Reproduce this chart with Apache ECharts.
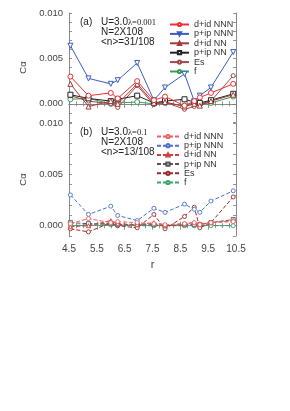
<!DOCTYPE html>
<html><head><meta charset="utf-8">
<script src="https://cdn.jsdelivr.net/npm/echarts@6/dist/echarts.min.js"></script>
<style>html,body{margin:0;padding:0;background:#fff}#c{width:290px;height:411px}</style>
</head><body><div id="c"></div>
<script>
// r positions
const rA = [4.55, 5.2, 6.0, 6.25, 6.95, 7.55, 7.95, 8.65, 9.0, 9.2, 9.6, 10.4];
const rB = [4.55, 5.2, 6.0, 6.25, 6.95, 7.55, 7.95, 8.65, 9.0, 9.2, 9.6, 10.4];
const xTicks = ['4.5','5.5','6.5','7.5','8.5','9.5','10.5'];
const seriesNames = ['d+id NNN','p+ip NNN','d+id NN','p+ip NN','Es','f'];
// panel (a)  U=3.0 lambda=0.001
const a_didNNN = [0.0030, 0.0009, 0.0012, 0.0006, 0.0025, 0.0004, 0.0008, -0.0002, 0.0003, 0.0007, 0.0012, 0.0022];
const a_pipNNN = [0.0064, 0.0028, 0.0022, 0.0026, 0.0045, 0.0004, 0.0018, 0.0033, 0.0003, 0.0009, 0.0018, 0.0057];
const a_didNN  = [0.0022, -0.0003, 0.0003, 0.0000, 0.0022, 0.0001, 0.0002, -0.0003, 0.0000, -0.0002, 0.0003, 0.0010];
const a_pipNN  = [0.0010, 0.0006, 0.0003, 0.0005, 0.0009, 0.0001, 0.0003, 0.0005, 0.0002, 0.0001, 0.0004, 0.0011];
const a_Es     = [0.0009, 0.0003, 0.0000, -0.0004, 0.0020, -0.0001, 0.0002, -0.0006, -0.0003, 0.0000, 0.0003, 0.0031];
const a_f      = [0.0005, 0.0006, 0.0000, 0.0001, 0.0002, 0.0000, 0.0001, -0.0002, 0.0001, 0.0000, 0.0001, 0.0008];
// panel (b)  U=3.0 lambda=0.1
const b_didNNN = [0.0002, 0.0007, 0.0003, 0.0004, 0.0003, 0.0002, 0.0001, 0.0002, 0.0003, 0.0001, 0.0003, 0.0004];
const b_pipNNN = [0.0030, 0.0011, 0.0019, 0.0010, 0.0005, 0.0017, 0.0013, 0.0021, 0.0016, 0.0013, 0.0024, 0.0034];
const b_didNN  = [-0.0001, 0.0000, 0.0005, 0.0002, 0.0001, 0.0003, 0.0000, 0.0002, 0.0003, 0.0002, 0.0003, 0.0005];
const b_pipNN  = [0.0003, 0.0002, 0.0002, 0.0001, 0.0001, 0.0001, 0.0000, 0.0001, 0.0001, 0.0001, 0.0003, 0.0006];
const b_Es     = [-0.0003, -0.0006, 0.0003, 0.0000, -0.0002, 0.0011, -0.0003, 0.0009, 0.0018, -0.0002, 0.0003, 0.0028];
const b_f      = [0.0000, 0.0001, 0.0001, 0.0001, 0.0000, 0.0000, 0.0000, 0.0000, 0.0000, 0.0000, 0.0000, 0.0000];

const FONT = 'Liberation Sans, Arial, sans-serif';
const pair = (xs, ys) => xs.map((x, i) => [x, ys[i]]);

const styleA = [
  {color:'#ee3030', symbol:'circle', size:5},
  {color:'#3a5cc0', symbol:'path://M0,0 L10,0 L5,9 Z', size:5},
  {color:'#a33a3a', symbol:'triangle', size:5},
  {color:'#222222', symbol:'rect', size:5},
  {color:'#a04848', symbol:'circle', size:4},
  {color:'#3a9a5a', symbol:'circle', size:5}
];
const styleB = [
  {color:'#f06060', symbol:'circle', size:4},
  {color:'#4a6fd0', symbol:'circle', size:4},
  {color:'#d04040', symbol:'triangle', size:4},
  {color:'#555555', symbol:'rect', size:4},
  {color:'#9a2a2a', symbol:'circle', size:4},
  {color:'#33aa66', symbol:'circle', size:4}
];
const dataA = [a_didNNN, a_pipNNN, a_didNN, a_pipNN, a_Es, a_f];
const dataB = [b_didNNN, b_pipNNN, b_didNN, b_pipNN, b_Es, b_f];

const series = [];
seriesNames.forEach((n, i) => {
  const s = styleA[i];
  series.push({name: n, type:'line', xAxisIndex:0, yAxisIndex:0, data: pair(rA, dataA[i]),
    symbol: s.symbol, symbolSize: s.size, showSymbol:true, color: s.color,
    itemStyle:{color:'#fff', borderColor:s.color, borderWidth:1},
    lineStyle:{color:s.color, width:1}, z: 10 - i});
});
seriesNames.forEach((n, i) => {
  const s = styleB[i];
  series.push({name: n + ' ', type:'line', xAxisIndex:2, yAxisIndex:2, data: pair(rB, dataB[i]),
    symbol: s.symbol, symbolSize: s.size, showSymbol:true, color: s.color,
    itemStyle:{color:'#fff', borderColor:s.color, borderWidth:0.9},
    lineStyle:{color:s.color, width:1, type:[4,2]}, z: 10 - i});
});

const axisLine = {show:true, lineStyle:{color:'#888', width:1}};
const tickStyle = {color:'#777', width:0.8};
function xAx(grid, pos, labels) {
  return {type:'value', gridIndex:grid, position:pos, min:4.5, max:10.5, interval:1,
    axisLine, axisTick:{show:true, inside:true, length:4, lineStyle:tickStyle},
    minorTick:{show:true, splitNumber:4, length:2.5, lineStyle:tickStyle},
    splitLine:{show:false},
    axisLabel:{show:labels, color:'#444', fontFamily:FONT, fontSize:10, margin:8,
      formatter: v => { const t = xTicks.find(s => Math.abs(parseFloat(s) - v) < 1e-6); return t || ''; }},
    name: labels ? 'r' : '', nameLocation:'middle', nameGap:23,
    nameTextStyle:{color:'#444', fontFamily:FONT, fontSize:11}};
}
function yAx(grid, pos, min, labels) {
  return {type:'value', gridIndex:grid, position:pos, min:min, max:0.010, interval:0.001,
    axisLine, axisTick:{show:true, inside:true, length:3, lineStyle:tickStyle},
    splitLine:{show:false},
    axisLabel:{show:labels, color:'#444', fontFamily:FONT, fontSize:9.5, margin:6,
      formatter: v => { const k = Math.round(v*1000); return (k % 5 === 0 && k >= 0) ? (k/1000).toFixed(3) : ''; }},
    name: labels ? 'Cα' : '', nameLocation:'middle', nameGap:33, nameRotate:90,
    nameTextStyle:{color:'#444', fontFamily:FONT, fontSize:9.5}};
}

const legendText = {fontFamily:FONT, fontSize:9, color:'#333'};
const option = {
  backgroundColor:'#fff',
  animation:false,
  grid:[
    {left:69, top:13, width:167, height:109},
    {left:69, top:123, width:167, height:113}
  ],
  xAxis:[xAx(0,'bottom',false), xAx(0,'top',false), xAx(1,'bottom',true), xAx(1,'top',false)],
  yAxis:[yAx(0,'left',-0.002,true), yAx(0,'right',-0.002,false), yAx(1,'left',-0.001,true), yAx(1,'right',-0.001,false)],
  legend:[
    {data: seriesNames, orient:'vertical', left:164, top:15, itemWidth:19, itemHeight:4, itemGap:0.4,
      textStyle: legendText, selectedMode:false},
    {data: seriesNames.map(n => n + ' '), orient:'vertical', left:151, top:127, itemWidth:22, itemHeight:4, itemGap:0.2,
      textStyle: legendText, selectedMode:false}
  ],
  graphic:[
    {type:'text', left:80, top:17, style:{text:'(a)', font:'10px ' + FONT, fill:'#222'}},
    {type:'text', left:101, top:17, style:{text:'U=3.0', font:'10px ' + FONT, fill:'#222'}},
    {type:'text', left:128, top:18, style:{text:'λ=0.001', font:'8.5px Liberation Serif, serif', fill:'#222'}},
    {type:'text', left:101, top:27, style:{text:'N=2X108', font:'10px ' + FONT, fill:'#222'}},
    {type:'text', left:101, top:37, style:{text:'<n>=31/108', font:'10px ' + FONT, fill:'#222'}},
    {type:'text', left:80, top:127, style:{text:'(b)', font:'10px ' + FONT, fill:'#222'}},
    {type:'text', left:101, top:127, style:{text:'U=3.0', font:'10px ' + FONT, fill:'#222'}},
    {type:'text', left:128, top:128, style:{text:'λ=0.1', font:'8.5px Liberation Serif, serif', fill:'#222'}},
    {type:'text', left:101, top:137, style:{text:'N=2X108', font:'10px ' + FONT, fill:'#222'}},
    {type:'text', left:101, top:147, style:{text:'<n>=13/108', font:'10px ' + FONT, fill:'#222'}}
  ],
  series
};
echarts.init(document.getElementById('c'), null, {renderer:'canvas'}).setOption(option);
</script></body></html>
